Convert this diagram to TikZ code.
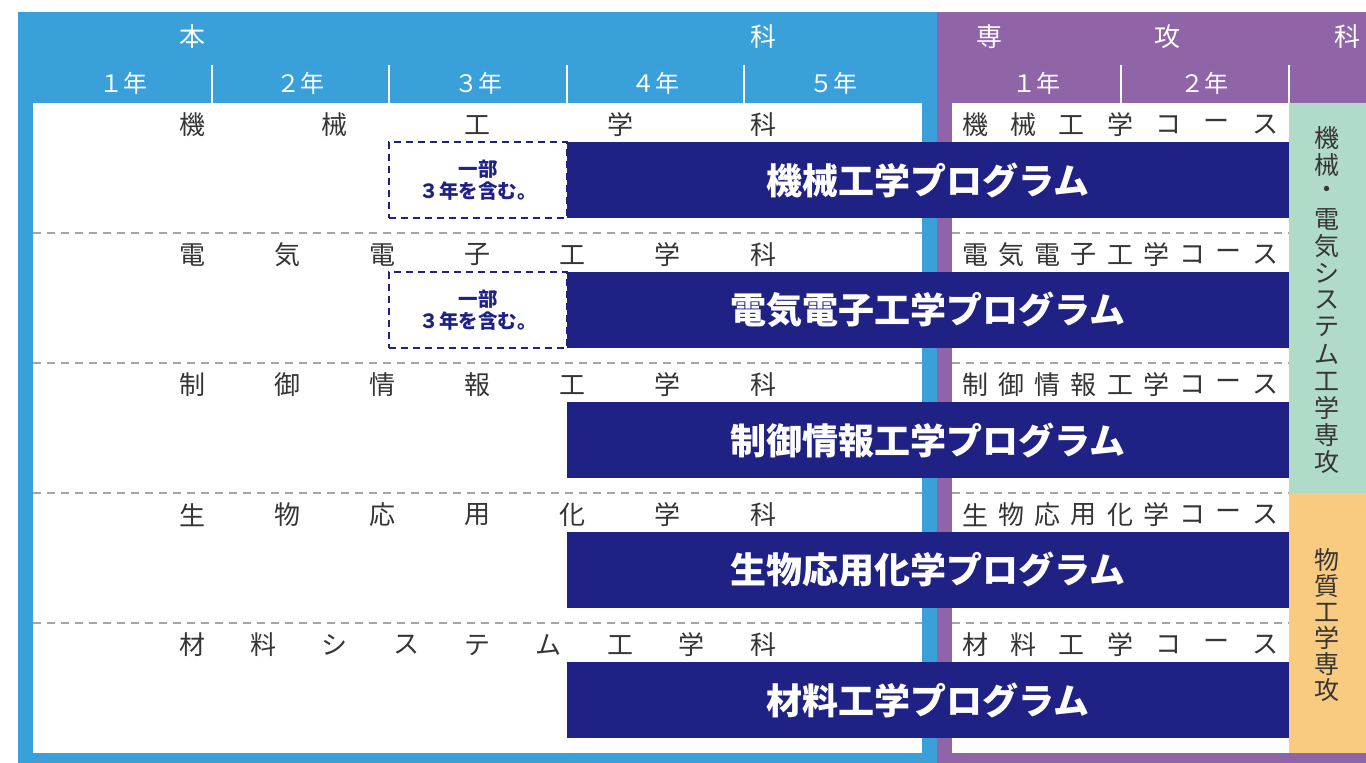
\documentclass[tikz,border=0pt]{standalone}
\usepackage{fontspec}
\setmainfont{Noto Sans CJK JP}
\definecolor{hblue}{RGB}{58,160,218}
\definecolor{hpurple}{RGB}{143,101,167}
\definecolor{navy}{RGB}{31,33,133}
\definecolor{mgreen}{RGB}{175,219,200}
\definecolor{morange}{RGB}{248,203,128}
\definecolor{txtgray}{RGB}{55,52,52}
\definecolor{sepgray}{RGB}{165,165,165}
\begin{document}
\begin{tikzpicture}[x=1pt,y=-1pt,
  hdr/.style={text=white,font=\fontsize{26}{26}\selectfont,inner sep=0},
  yr/.style={text=white,font=\fontsize{24}{24}\selectfont,inner sep=0},
  dept/.style={text=txtgray,font=\fontsize{26}{26}\selectfont,inner sep=0},
  vert/.style={text=txtgray,font=\fontsize{25}{25}\selectfont,inner sep=0},
  prog/.style={fill=navy,text=white,font=\bfseries\fontsize{36}{36}\selectfont,inner sep=0,minimum width=722pt,minimum height=76pt},
  partbox/.style={draw=navy,line width=1.5pt,dash pattern=on 7pt off 5pt,text=navy,font=\bfseries\fontsize{19.5}{22}\selectfont,align=center,inner sep=0,minimum width=178pt,minimum height=76pt},
  sepline/.style={draw=sepgray,line width=1.3pt,dash pattern=on 8pt off 6pt},
  divline/.style={draw=white,line width=1.8pt}]
\useasboundingbox (0,0) rectangle (1366,763);
% frames
\fill[hblue] (18,12) rectangle (937,763);
\fill[hpurple] (937,12) rectangle (1366,763);
\fill[white] (33,103) rectangle (922,753);
\fill[white] (952,103) rectangle (1289,753);
\fill[mgreen] (1289,103) rectangle (1366,493);
\fill[morange] (1289,493) rectangle (1366,753);
% header
\node[hdr] (h1) at (192,37) {本};
\node[hdr] (h2) at (763,37) {科};
\node[hdr] (h3) at (989,37) {専};
\node[hdr] (h4) at (1167,37) {攻};
\node[hdr] (h5) at (1347,37) {科};
\node[yr] (y1) at (123,83) {１年};
\node[yr] (y2) at (300,83) {２年};
\node[yr] (y3) at (478,83) {３年};
\node[yr] (y4) at (655,83) {４年};
\node[yr] (y5) at (833,83) {５年};
\node[yr] (y6) at (1036,83) {１年};
\node[yr] (y7) at (1204,83) {２年};
\foreach \x in {212,389,567,744,1121,1289} \draw[divline] (\x,65) -- (\x,103);
% separators
\foreach \r in {1,2,3,4} {
  \draw[sepline] (33,{103+130*\r}) -- (922,{103+130*\r});
  \draw[sepline] (952,{103+130*\r}) -- (1289,{103+130*\r});
}
% department labels
\foreach \c [count=\i] in {機,械,工,学,科} \node[dept] (da\i) at ({192+(\i-1)*571/4},125) {\c};
\foreach \c [count=\i] in {電,気,電,子,工,学,科} \node[dept] (db\i) at ({192+(\i-1)*571/6},255) {\c};
\foreach \c [count=\i] in {制,御,情,報,工,学,科} \node[dept] (dc\i) at ({192+(\i-1)*571/6},385) {\c};
\foreach \c [count=\i] in {生,物,応,用,化,学,科} \node[dept] (dd\i) at ({192+(\i-1)*571/6},515) {\c};
\foreach \c [count=\i] in {材,料,シ,ス,テ,ム,工,学,科} \node[dept] (de\i) at ({192+(\i-1)*571/8},645) {\c};
% course labels
\foreach \c [count=\i] in {機,械,工,学,コ,ー,ス} \node[dept] (ca\i) at ({975+(\i-1)*290/6},125) {\c};
\foreach \c [count=\i] in {電,気,電,子,工,学,コ,ー,ス} \node[dept] (cb\i) at ({975+(\i-1)*290/8},255) {\c};
\foreach \c [count=\i] in {制,御,情,報,工,学,コ,ー,ス} \node[dept] (cc\i) at ({975+(\i-1)*290/8},385) {\c};
\foreach \c [count=\i] in {生,物,応,用,化,学,コ,ー,ス} \node[dept] (cd\i) at ({975+(\i-1)*290/8},515) {\c};
\foreach \c [count=\i] in {材,料,工,学,コ,ー,ス} \node[dept] (ce\i) at ({975+(\i-1)*290/6},645) {\c};
% programs
\node[prog] (p1) at (928,180) {機械工学プログラム};
\node[prog] (p2) at (928,310) {電気電子工学プログラム};
\node[prog] (p3) at (928,440) {制御情報工学プログラム};
\node[prog] (p4) at (928,570) {生物応用化学プログラム};
\node[prog] (p5) at (928,700) {材料工学プログラム};
\node[partbox] (b1) at (478,180) {一部\\３年を含む。};
\node[partbox] (b2) at (478,310) {一部\\３年を含む。};
% vertical labels
\foreach \c [count=\i] in {機,械,・,電,気,シ,ス,テ,ム,工,学,専,攻} \node[vert] (va\i) at (1327,{138+(\i-1)*27}) {\c};
\foreach \c [count=\i] in {物,質,工,学,専,攻} \node[vert] (vb\i) at (1327,{560+(\i-1)*26}) {\c};
\end{tikzpicture}
\end{document}
